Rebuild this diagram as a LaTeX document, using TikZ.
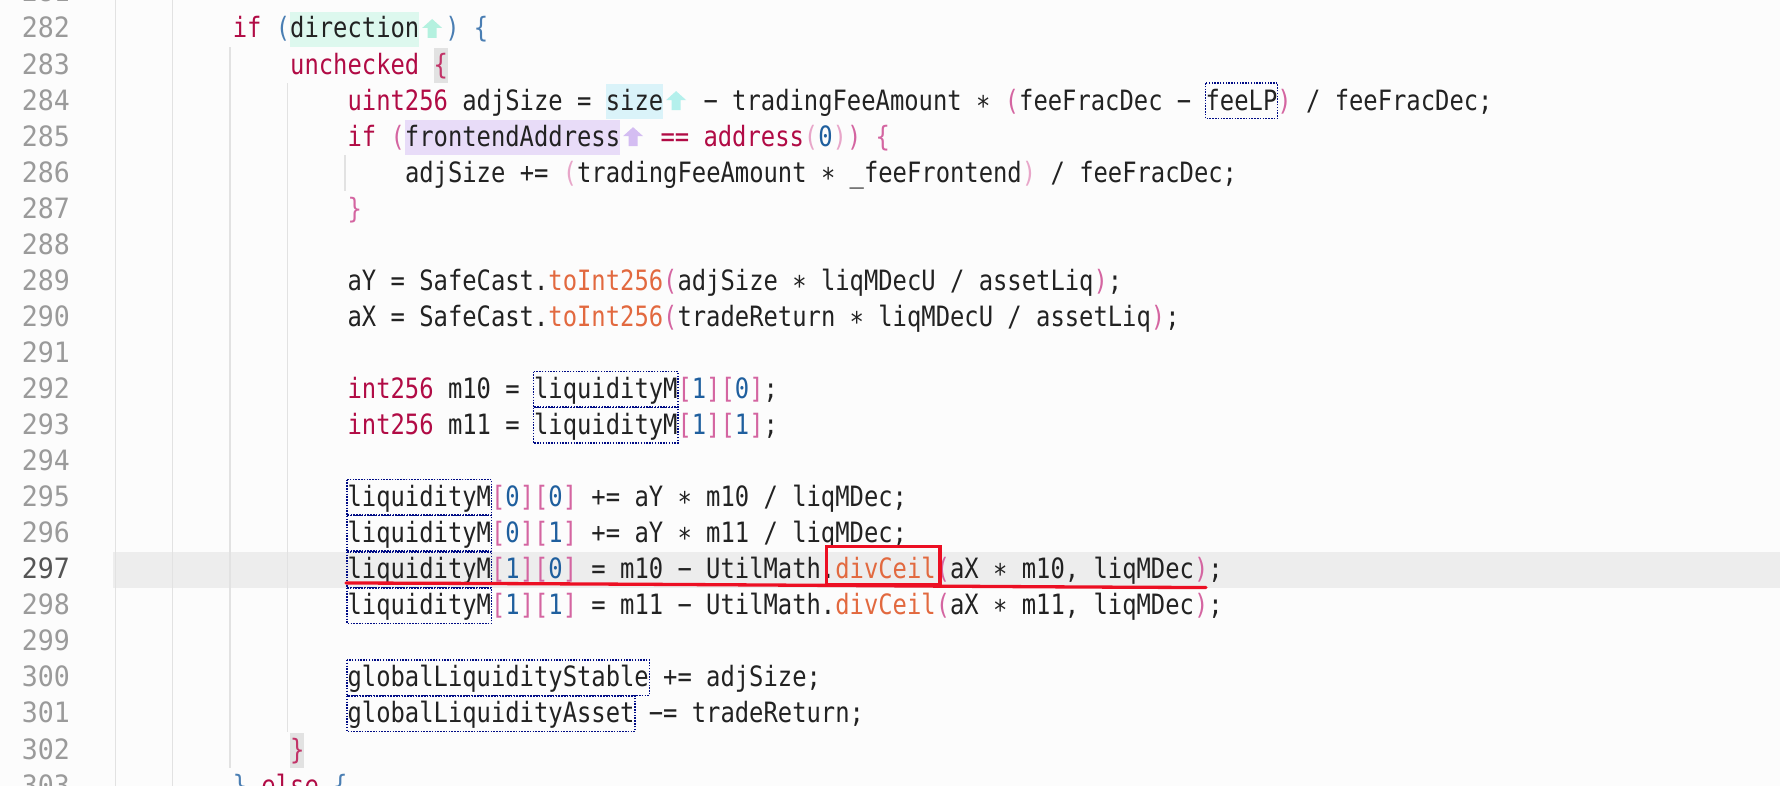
\documentclass[tikz,border=0pt]{standalone}
\usepackage{fontspec}
\usepackage{xcolor}
\usepackage{tikz}
\newfontfamily\codefont[FakeStretch=0.851, WordSpace={1,0,0}]{DejaVu Sans Mono}
\newfontfamily\gutterfont[FakeStretch=0.95, WordSpace={1,0,0}]{DejaVu Sans Mono}
\newcommand{\codesize}{\fontsize{28pt}{36pt}\selectfont}

\definecolor{pagebg}{HTML}{FCFCFC}
\definecolor{curline}{HTML}{EDEDED}
\definecolor{guidegray}{HTML}{E2E2E2}
\definecolor{lnumgray}{HTML}{9A9A9A}
\definecolor{lnumcur}{HTML}{555555}
\definecolor{plain}{HTML}{222222}
\definecolor{kwred}{HTML}{B10B45}
\definecolor{bluebr}{HTML}{4A7EB3}
\definecolor{crimbr}{HTML}{C23368}
\definecolor{pinkbr}{HTML}{D465A1}
\definecolor{lightbr}{HTML}{E8A6C9}
\definecolor{digitblue}{HTML}{1F5F9E}
\definecolor{fnorange}{HTML}{E2693F}
\definecolor{mintbg}{HTML}{DDF8EE}
\definecolor{mintarr}{HTML}{B4F1DF}
\definecolor{cyanbg}{HTML}{DAF3F9}
\definecolor{cyanarr}{HTML}{B4F0EC}
\definecolor{lilacbg}{HTML}{E8DCF8}
\definecolor{lilacarr}{HTML}{D4BDF2}
\definecolor{matchbg}{HTML}{E2E2E2}
\definecolor{refnavy}{HTML}{000C85}
\definecolor{markred}{HTML}{EC0F23}

% token colours
\newcommand{\kwd}[1]{\textcolor{kwred}{#1}}
\newcommand{\fnc}[1]{\textcolor{fnorange}{#1}}
\newcommand{\dgt}[1]{\textcolor{digitblue}{#1}}
\newcommand{\bbr}[1]{\textcolor{bluebr}{#1}}
\newcommand{\cbr}[1]{\textcolor{crimbr}{#1}}
\newcommand{\pbr}[1]{\textcolor{pinkbr}{#1}}
\newcommand{\lbr}[1]{\textcolor{lightbr}{#1}}
\newcommand{\idx}[2]{\pbr{[}\dgt{#1}\pbr{]}\pbr{[}\dgt{#2}\pbr{]}}
\newcommand{\inlay}{\hspace*{26pt}}
\newcommand{\mul}{∗}
\newcommand{\sub}{−}

% column and row positions
\newcommand{\cX}[1]{117.8+(#1)*14.35}
\newcommand{\gX}[1]{115.3+(#1)*14.35}
\newcommand{\rowY}[1]{29+36.05*((#1)-282)}

% up arrow of a parameter hint
\newcommand{\hint}[3]{%
  \fill[#3] ({#1-10},{#2-1}) -- ({#1},{#2-10}) -- ({#1+10},{#2-1})
    -- ({#1+4.5},{#2-1}) -- ({#1+4.5},{#2+9}) -- ({#1-4.5},{#2+9})
    -- ({#1-4.5},{#2-1}) -- cycle;}

\tikzset{
  code/.style={anchor=base west, inner sep=0pt, text=plain, font=\codefont\codesize},
  lnumber/.style={anchor=base east, inner sep=0pt, text=lnumgray, font=\gutterfont\codesize},
  guide/.style={draw=guidegray, line width=1.4pt},
  refbox/.style={draw=refnavy, line width=1.5pt, dash pattern=on 1.5pt off 1.3pt},
  redmark/.style={draw=markred, line width=3.3pt}
}

\begin{document}
\frenchspacing
\begin{tikzpicture}[x=1pt, y=-1pt]
  \useasboundingbox (0,0) rectangle (1780,786);
  \clip (0,0) rectangle (1780,786);
  \fill[pagebg] (0,0) rectangle (1780,786);
  \fill[curline] (113,{\rowY{297}-18}) rectangle (1780,{\rowY{297}+18});

  % indent guides
  \draw[guide] ({\gX{0}},0) -- ({\gX{0}},786);
  \draw[guide] ({\gX{4}},0) -- ({\gX{4}},786);
  \draw[guide] ({\gX{8}},{\rowY{283}-18}) -- ({\gX{8}},{\rowY{302}+18});
  \draw[guide] ({\gX{12}},{\rowY{284}-18}) -- ({\gX{12}},{\rowY{301}+18});
  \draw[guide] ({\gX{16}},{\rowY{286}-18}) -- ({\gX{16}},{\rowY{286}+18});

  % line numbers
  \foreach \k in {281,...,296,298,299,300,301,302,303}
    \node[lnumber] (n\k) at (70,{\rowY{\k}+9}) {\k};
  \node[lnumber, text=lnumcur] (n297) at (70,{\rowY{297}+9}) {297};

  % highlights
  \fill[mintbg] ({\cX{12}},{\rowY{282}-17}) rectangle ({\cX{21}},{\rowY{282}+18});
  \hint{\cX{21}+13}{\rowY{282}}{mintarr}
  \fill[cyanbg] ({\cX{34}},{\rowY{284}-17}) rectangle ({\cX{38}},{\rowY{284}+18});
  \hint{\cX{38}+13}{\rowY{284}}{cyanarr}
  \fill[lilacbg] ({\cX{20}},{\rowY{285}-17}) rectangle ({\cX{35}},{\rowY{285}+18});
  \hint{\cX{35}+13}{\rowY{285}}{lilacarr}
  \fill[matchbg] ({\cX{22}},{\rowY{283}-17}) rectangle ({\cX{23}},{\rowY{283}+18});
  \fill[matchbg] ({\cX{12}},{\rowY{302}-17}) rectangle ({\cX{13}},{\rowY{302}+18});

  % code
  \node[code] (c282) at ({\cX{8}},{\rowY{282}+9}) {\kwd{if} \bbr{(}direction\inlay\bbr{)} \bbr{\{}};
  \node[code] (c283) at ({\cX{12}},{\rowY{283}+9}) {\kwd{unchecked} \cbr{\{}};
  \node[code] (c284) at ({\cX{16}},{\rowY{284}+9}) {\kwd{uint256} adjSize = size\inlay{} \sub{} tradingFeeAmount \mul{} \pbr{(}feeFracDec \sub{} feeLP\pbr{)} / feeFracDec;};
  \node[code] (c285) at ({\cX{16}},{\rowY{285}+9}) {\kwd{if} \pbr{(}frontendAddress\inlay{} \kwd{==} \kwd{address}\lbr{(}\dgt{0}\lbr{)}\pbr{)} \pbr{\{}};
  \node[code] (c286) at ({\cX{20}},{\rowY{286}+9}) {adjSize += \lbr{(}tradingFeeAmount \mul{} \_feeFrontend\lbr{)} / feeFracDec;};
  \node[code] (c287) at ({\cX{16}},{\rowY{287}+9}) {\pbr{\}}};
  \node[code] (c289) at ({\cX{16}},{\rowY{289}+9}) {aY = SafeCast.\fnc{toInt256}\pbr{(}adjSize \mul{} liqMDecU / assetLiq\pbr{)};};
  \node[code] (c290) at ({\cX{16}},{\rowY{290}+9}) {aX = SafeCast.\fnc{toInt256}\pbr{(}tradeReturn \mul{} liqMDecU / assetLiq\pbr{)};};
  \node[code] (c292) at ({\cX{16}},{\rowY{292}+9}) {\kwd{int256} m10 = liquidityM\idx{1}{0};};
  \node[code] (c293) at ({\cX{16}},{\rowY{293}+9}) {\kwd{int256} m11 = liquidityM\idx{1}{1};};
  \node[code] (c295) at ({\cX{16}},{\rowY{295}+9}) {liquidityM\idx{0}{0} += aY \mul{} m10 / liqMDec;};
  \node[code] (c296) at ({\cX{16}},{\rowY{296}+9}) {liquidityM\idx{0}{1} += aY \mul{} m11 / liqMDec;};
  \node[code] (c297) at ({\cX{16}},{\rowY{297}+9}) {liquidityM\idx{1}{0} = m10 \sub{} UtilMath.\fnc{divCeil}\pbr{(}aX \mul{} m10, liqMDec\pbr{)};};
  \node[code] (c298) at ({\cX{16}},{\rowY{298}+9}) {liquidityM\idx{1}{1} = m11 \sub{} UtilMath.\fnc{divCeil}\pbr{(}aX \mul{} m11, liqMDec\pbr{)};};
  \node[code] (c300) at ({\cX{16}},{\rowY{300}+9}) {globalLiquidityStable += adjSize;};
  \node[code] (c301) at ({\cX{16}},{\rowY{301}+9}) {globalLiquidityAsset \sub{}= tradeReturn;};
  \node[code] (c302) at ({\cX{12}},{\rowY{302}+9}) {\cbr{\}}};
  \node[code] (c303) at ({\cX{8}},{\rowY{303}+9}) {\bbr{\}} \kwd{else} \bbr{\{}};

  % dotted boxes round the state variables
  \draw[refbox] ({\cX{74}+26},{\rowY{284}-18}) rectangle ({\cX{79}+26},{\rowY{284}+17.5});
  \foreach \k/\c/\n in {292/29/10, 293/29/10, 295/16/10, 296/16/10, 297/16/10, 298/16/10, 300/16/21, 301/16/20}
    \draw[refbox] ({\cX{\c}-0.5},{\rowY{\k}-18}) rectangle ({\cX{\c+\n}+0.5},{\rowY{\k}+17.5});

  % red marks
  \coordinate (mA) at (826.6,546.6);
  \coordinate (mB) at (940,584.4);
  \draw[redmark] (mA) rectangle (mB);
  \coordinate (uA) at (346,583);
  \coordinate (uB) at (700,584);
  \coordinate (uC) at (1000,587);
  \coordinate (uD) at (1206,587.5);
  \draw[redmark, line cap=round] (uA) .. controls (uB) and (uC) .. (uD);
\end{tikzpicture}
\end{document}
